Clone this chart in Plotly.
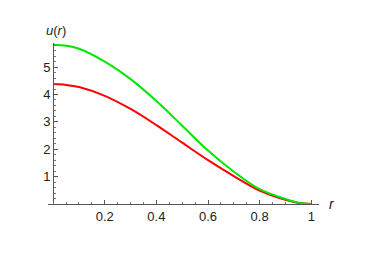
import plotly.graph_objects as go

r_vals = [0.0, 0.05, 0.1, 0.2, 0.3, 0.4, 0.5, 0.6, 0.7, 0.8, 0.9, 0.95, 1.0]
u_green = [5.82, 5.78, 5.67, 5.20, 4.56, 3.76, 2.86, 1.95, 1.18, 0.54, 0.18, 0.05, 0.0]
u_red = [4.38, 4.35, 4.27, 3.95, 3.47, 2.88, 2.24, 1.60, 1.02, 0.49, 0.15, 0.04, 0.0]
x_ticks = [0.2, 0.4, 0.6, 0.8, 1.0]
x_tick_labels = ["0.2", "0.4", "0.6", "0.8", "1"]
y_ticks = [1, 2, 3, 4, 5]
y_tick_labels = ["1", "2", "3", "4", "5"]

fig = go.Figure()
fig.add_trace(go.Scatter(x=r_vals, y=u_red, mode="lines", line=dict(color="#ff0000", width=2, shape="spline", smoothing=1.0), showlegend=False))
fig.add_trace(go.Scatter(x=r_vals, y=u_green, mode="lines", line=dict(color="#00e600", width=2, shape="spline", smoothing=1.0), showlegend=False))

xmin, xmax = -0.02, 1.03
ypos = (0 - xmin) / (xmax - xmin)
fnt = dict(family="Liberation Sans, Arial", size=13, color="#222222")

fig.update_layout(
    width=374, height=264,
    margin=dict(l=40, r=63, t=35, b=68, autoexpand=False),
    paper_bgcolor="white", plot_bgcolor="white",
    xaxis=dict(range=[xmin, xmax], showgrid=False, zeroline=False, showline=True, linecolor="#555555", linewidth=1,
               automargin=False,
               ticks="inside", ticklen=4, tickcolor="#555555", tickvals=x_ticks, ticktext=x_tick_labels,
               tickfont=fnt, minor=dict(dtick=0.05, tick0=0, ticks="inside", ticklen=2, tickcolor="#777777")),
    yaxis=dict(range=[0, 5.88], showgrid=False, zeroline=False, showline=True, linecolor="#555555", linewidth=1,
               anchor="free", position=ypos, automargin=False,
               ticks="inside", ticklen=4, tickcolor="#555555", tickvals=y_ticks, ticktext=y_tick_labels,
               tickfont=fnt, minor=dict(dtick=0.2, tick0=0, ticks="inside", ticklen=2, tickcolor="#777777")),
    annotations=[
        dict(text="<i>u</i>(<i>r</i>)", xref="paper", yref="paper", x=ypos, y=1.0, xanchor="center", yanchor="bottom",
             xshift=3, yshift=3, showarrow=False, font=dict(family="Liberation Sans, Arial", size=13, color="#222222")),
        dict(text="<i>r</i>", xref="paper", yref="y", x=1.0, y=0, xanchor="left", yanchor="middle",
             xshift=8, showarrow=False, font=dict(family="Liberation Sans, Arial", size=14, color="#222222")),
    ],
)

fig.write_html("out.html")
